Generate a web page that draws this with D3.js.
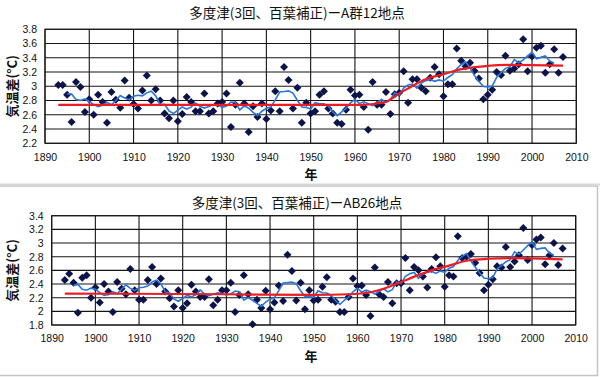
<!DOCTYPE html>
<html>
<head>
<meta charset="utf-8">
<script src="https://cdn.jsdelivr.net/npm/d3@7"></script>
<style>
  body { margin: 0; background: #fff; }
  svg { display: block; }
  .tick text { font-family: "Liberation Sans", Arial, sans-serif; font-size: 10.5px; fill: #111; }
</style>
</head>
<body>
<div id="container"></div>
<script>
// years of the annual points
const firstYear = 1893;

// A群12地点, temperature difference (°C), 1893-2007
const tempA = [
  3.02,3.02,2.88,2.50,3.06,2.99,2.64,2.82,2.60,2.88,
  2.78,2.49,2.92,2.81,2.70,3.08,2.84,2.75,2.69,2.94,
  3.15,2.80,2.96,2.80,2.62,2.55,2.80,2.51,2.61,2.85,
  2.78,2.65,2.65,2.90,2.62,2.65,2.76,2.78,2.90,2.43,
  2.74,3.05,2.76,2.36,2.72,2.57,2.76,2.54,2.66,2.93,
  2.65,3.27,3.09,2.69,2.98,2.49,2.77,2.62,2.65,2.88,
  2.93,2.69,2.62,2.49,2.47,2.67,2.95,2.87,2.88,2.71,
  2.39,3.06,2.74,2.74,2.92,2.61,2.89,2.91,3.21,2.77,
  3.10,3.10,2.98,2.93,3.12,3.27,3.17,2.86,3.03,3.03,
  3.53,3.36,3.28,3.33,3.22,3.11,2.82,2.88,2.95,3.20,
  3.16,3.43,3.22,3.25,3.31,3.66,3.21,3.42,3.54,3.57,
  3.19,3.31,3.52,3.19,3.41
];

// AB26地点, temperature difference (°C), 1893-2007
const tempAB = [
  2.46,2.55,2.42,1.98,2.49,2.53,2.20,2.35,2.13,2.40,
  2.29,1.99,2.43,2.33,2.25,2.62,2.31,2.17,2.17,2.46,
  2.65,2.40,2.48,2.29,2.19,2.07,2.31,2.05,2.12,2.39,
  2.29,2.21,2.21,2.47,2.09,2.17,2.31,2.31,2.42,1.99,
  2.24,2.53,2.25,1.81,2.17,2.05,2.30,2.03,2.13,2.38,
  2.15,2.83,2.59,2.16,2.42,2.03,2.31,2.16,2.17,2.36,
  2.50,2.17,2.14,1.99,1.99,2.21,2.48,2.37,2.38,2.24,
  1.93,2.64,2.25,2.21,2.43,2.12,2.41,2.41,2.78,2.31,
  2.65,2.60,2.51,2.35,2.62,2.79,2.66,2.36,2.53,2.51,
  3.10,2.78,2.80,2.84,2.71,2.56,2.31,2.39,2.47,2.66,
  2.64,2.94,2.65,2.73,2.82,3.22,2.75,2.97,3.05,3.08,
  2.69,2.82,3.00,2.68,2.92
];

// red smooth trend
const fitYearsA = [1893,1962,1965,1967,1970,1972,1976,1980,1984,1989,1995,2007];
const fitA      = [2.74,2.74,2.76,2.78,2.90,2.97,3.10,3.17,3.24,3.28,3.30,3.29];
const fitYearsAB = [1893,1930,1950,1958,1963,1966,1970,1974,1977,1981,1985,1990,1996,2007];
const fitAB      = [2.26,2.25,2.24,2.25,2.28,2.33,2.43,2.53,2.60,2.67,2.74,2.77,2.78,2.76];

const xTicks = [1890,1900,1910,1920,1930,1940,1950,1960,1970,1980,1990,2000,2010];
const yTicksA = [2.2,2.4,2.6,2.8,3,3.2,3.4,3.6,3.8];
const yTicksAB = [1.8,2,2.2,2.4,2.6,2.8,3,3.2,3.4];

const titleA = '多度津(3回、百葉補正)ーA群12地点';
const titleAB = '多度津(3回、百葉補正)ーAB26地点';

const svg = d3.select('#container')
  .append('svg')
  .attr('width', 600)
  .attr('height', 377);

// panel frame / separator
svg.append('rect')
  .attr('x', -2).attr('y', 186)
  .attr('width', 599.5).attr('height', 189.5)
  .attr('fill', 'none').attr('stroke', '#c4c4c4').attr('stroke-width', 1.5);
svg.append('line')
  .attr('x1', 0).attr('x2', 600).attr('y1', 184.5).attr('y2', 184.5)
  .attr('stroke', '#d8d8d8').attr('stroke-width', 2);

function toSeries(vals){
  return vals.map(function(v, i){ return {year: firstYear + i, v: v}; });
}

// 5-year centred running mean of the points (the blue line)
function runningMean(series){
  let out = [];
  for (let i = 2; i < series.length - 2; i++) {
    out.push({year: series[i].year, v: d3.mean(series.slice(i-2, i+3), d => d.v)});
  }
  return out;
}

function drawPanel(cfg){
  let x = d3.scaleLinear().domain([1890, 2010]).range([cfg.left, cfg.right]);
  let y = d3.scaleLinear().domain(cfg.yDomain).range([cfg.bottom, cfg.top]);
  let g = svg.append('g');

  // grid
  g.append('g').selectAll('line.h').data(cfg.yTicks).enter()
    .append('line')
    .attr('x1', cfg.left).attr('x2', cfg.right)
    .attr('y1', d => y(d)).attr('y2', d => y(d))
    .attr('stroke', '#141414').attr('stroke-width', 1.1);
  g.append('g').selectAll('line.v').data(xTicks).enter()
    .append('line')
    .attr('x1', d => x(d)).attr('x2', d => x(d))
    .attr('y1', cfg.top).attr('y2', cfg.bottom)
    .attr('stroke', '#141414').attr('stroke-width', 1.1);
  g.append('rect')
    .attr('x', cfg.left).attr('y', cfg.top)
    .attr('width', cfg.right - cfg.left).attr('height', cfg.bottom - cfg.top)
    .attr('fill', 'none').attr('stroke', '#141414').attr('stroke-width', 1.1);

  // axes (labels only)
  let yAxis = d3.axisLeft(y).tickValues(cfg.yTicks).tickSize(0).tickPadding(8)
    .tickFormat(d3.format('~g'));
  g.append('g').attr('transform', 'translate(' + cfg.left + ',0)').call(yAxis)
    .call(a => a.select('.domain').remove());
  let xAxis = d3.axisBottom(x).tickValues(xTicks).tickSize(0).tickPadding(10)
    .tickFormat(d3.format('d'));
  g.append('g').attr('transform', 'translate(0,' + cfg.bottom + ')').call(xAxis)
    .call(a => a.select('.domain').remove());

  let series = toSeries(cfg.values);

  // diamonds
  g.append('g').selectAll('path').data(series).enter()
    .append('path')
    .attr('d', 'M0,-4L4,0L0,4L-4,0Z')
    .attr('transform', d => 'translate(' + x(d.year) + ',' + y(d.v) + ')')
    .attr('fill', '#0c1348');

  // running mean
  let line = d3.line().x(d => x(d.year)).y(d => y(d.v));
  g.append('path')
    .datum(runningMean(series))
    .attr('d', line)
    .attr('fill', 'none').attr('stroke', '#2877dd').attr('stroke-width', 1.6);

  // trend
  let fit = cfg.fitYears.map((yr, i) => ({year: yr, v: cfg.fit[i]}));
  g.append('path')
    .datum(fit)
    .attr('d', line.curve(d3.curveMonotoneX))
    .attr('fill', 'none').attr('stroke', '#ec1c24').attr('stroke-width', 2.2);

  // titles
  g.append('text')
    .attr('x', 297).attr('y', cfg.titleY)
    .attr('text-anchor', 'middle')
    .style('font-family', '"Noto Sans CJK JP", sans-serif')
    .style('font-size', '13.5px').style('fill', '#111')
    .text(cfg.title);
  g.append('text')
    .attr('x', 311).attr('y', cfg.bottom + 36)
    .attr('text-anchor', 'middle')
    .style('font-family', '"Noto Sans CJK JP", sans-serif')
    .style('font-size', '13px').style('font-weight', 'bold').style('fill', '#111')
    .text('年');
  g.append('text')
    .attr('transform', 'translate(17,' + ((cfg.top + cfg.bottom) / 2) + ') rotate(-90)')
    .attr('text-anchor', 'middle')
    .style('font-family', '"Noto Sans CJK JP", sans-serif')
    .style('font-size', '13px').style('font-weight', 'bold').style('fill', '#111')
    .text('気温差(°C)');
}

drawPanel({
  left: 45, right: 576.3, top: 29.3, bottom: 143.3,
  yDomain: [2.2, 3.8], yTicks: yTicksA,
  values: tempA, fitYears: fitYearsA, fit: fitA,
  title: titleA, titleY: 18
});

drawPanel({
  left: 51.7, right: 575.7, top: 215.7, bottom: 325,
  yDomain: [1.8, 3.4], yTicks: yTicksAB,
  values: tempAB, fitYears: fitYearsAB, fit: fitAB,
  title: titleAB, titleY: 208
});
</script>
</body>
</html>
